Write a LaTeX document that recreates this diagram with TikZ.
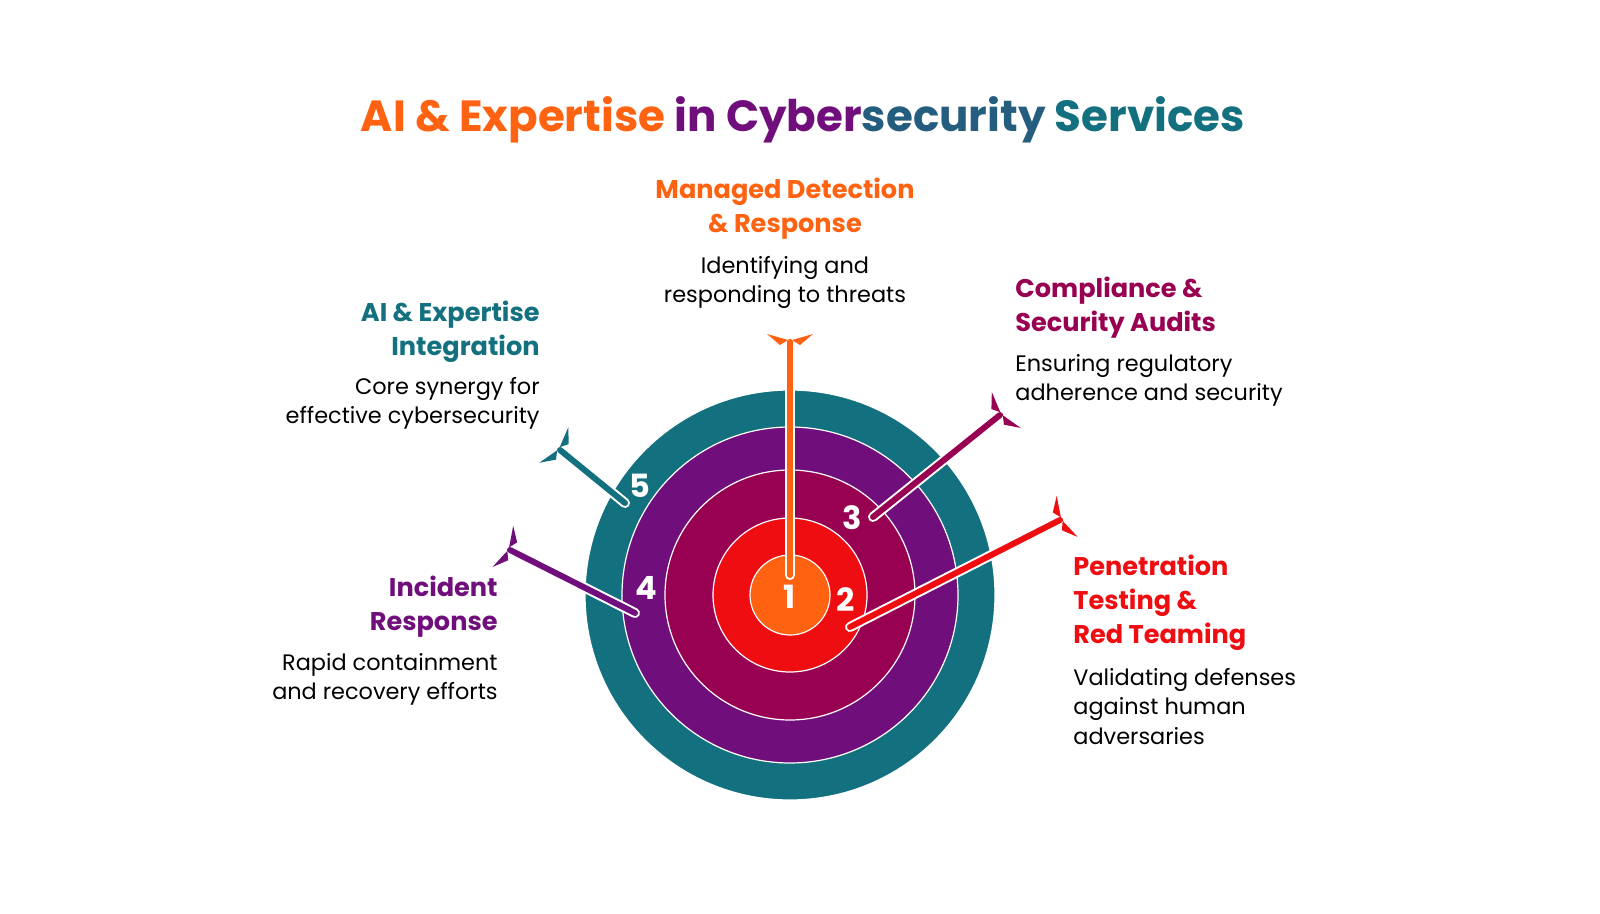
\documentclass[tikz,border=0pt]{standalone}
\usepackage{fontspec}
\setmainfont{Poppins}
\usetikzlibrary{positioning}
\definecolor{cteal}{HTML}{12707F}
\definecolor{cpurple}{HTML}{700F7C}
\definecolor{cmagenta}{HTML}{980052}
\definecolor{cred}{HTML}{EE0E12}
\definecolor{corange}{HTML}{FF6210}
\newcommand{\fletch}[3]{%
  \begin{scope}[shift={(#1)}, rotate=#2]
    \fill[#3] (1pt,1pt) -- (4pt,11.5pt) -- (-1.5pt,5pt) -- cycle;
    \fill[#3] (1pt,-1pt) -- (4pt,-11.5pt) -- (-1.5pt,-5pt) -- cycle;
  \end{scope}}
\begin{document}
\begin{tikzpicture}[x=0.5pt, y=-0.5pt]
		\tikzstyle{ring} = [draw=white, line width=0.6pt]
		\tikzstyle{heading} = [font=\fontsize{12.8}{17}\selectfont\bfseries, inner sep=0pt]
		\tikzstyle{desc} = [font=\fontsize{11.2}{14.7}\selectfont, inner sep=0pt]
		\tikzstyle{num} = [font=\fontsize{16}{16}\selectfont\bfseries, text=white, inner sep=0pt]
		\tikzstyle{shaftback} = [white, line width=5pt, line cap=round]
		\tikzstyle{shaft} = [line width=3pt, line cap=round]
		\fill[white] (0,0) rectangle (1600,914);
		\useasboundingbox (0,0) rectangle (1600,914);

		% Title
		\node (title) [font=\fontsize{21.8}{24}\selectfont\bfseries, inner sep=0pt] at (803,120)
			{\textcolor{corange}{AI \& Expertise} \textcolor{cpurple}{in Cyber}\textcolor{cteal!80!cpurple}{security} \textcolor{cteal}{Services}};

		% Target rings
		\fill[cteal, ring] (790,595) circle [radius=205*0.5pt];
		\fill[cpurple, ring] (790,595) circle [radius=168*0.5pt];
		\fill[cmagenta, ring] (790,595) circle [radius=125*0.5pt];
		\fill[cred, ring] (790,595) circle [radius=77*0.5pt];
		\fill[corange, ring] (790,595) circle [radius=40*0.5pt];

		% Arrow ends
		\coordinate (s1) at (790,575);   \coordinate (e1) at (790,342);
		\coordinate (s2) at (850,627);   \coordinate (e2) at (1060,520);
		\coordinate (s3) at (873,517);   \coordinate (e3) at (1000,415);
		\coordinate (s4) at (635,613);   \coordinate (e4) at (510,550);
		\coordinate (s5) at (625,503);   \coordinate (e5) at (560,450);

		% Arrows
		\foreach \s/\e/\a/\c in {s1/e1/90/corange, s2/e2/27/cred, s3/e3/38.8/cmagenta, s4/e4/153.3/cpurple, s5/e5/140.8/cteal} {
			\draw[shaftback] (\s) -- (\e);
			\draw[shaft, \c] (\s) -- (\e);
			\fletch{\e}{\a}{\c}
		}

		% Numbers
		\node (n1) [num] at (790,597) {1};
		\node (n2) [num] at (846,600) {2};
		\node (n3) [num] at (852,518) {3};
		\node (n4) [num] at (646,588) {4};
		\node (n5) [num] at (640,486) {5};

		% Labels
		\node (mdr) [heading, text=corange, align=center, anchor=north] at (785,178) {Managed Detection\\\& Response};
		\node (mdrd) [desc, align=center, anchor=north] at (785,256) {Identifying and\\responding to threats};
		\node (csa) [heading, text=cmagenta, align=left, anchor=north west] at (1015,277) {Compliance \&\\Security Audits};
		\node (csad) [desc, align=left, anchor=north west] at (1015,354) {Ensuring regulatory\\adherence and security};
		\node (ptr) [heading, text=cred, align=left, anchor=north west] at (1073,555) {Penetration\\Testing \&\\Red Teaming};
		\node (ptrd) [desc, align=left, anchor=north west] at (1073,668) {Validating defenses\\against human\\adversaries};
		\node (aei) [heading, text=cteal, align=right, anchor=north east] at (540,301) {AI \& Expertise\\Integration};
		\node (aeid) [desc, align=right, anchor=north east] at (540,377) {Core synergy for\\effective cybersecurity};
		\node (ir) [heading, text=cpurple, align=right, anchor=north east] at (498,576) {Incident\\Response};
		\node (ird) [desc, align=right, anchor=north east] at (498,653) {Rapid containment\\and recovery efforts};
	\end{tikzpicture}
\end{document}
